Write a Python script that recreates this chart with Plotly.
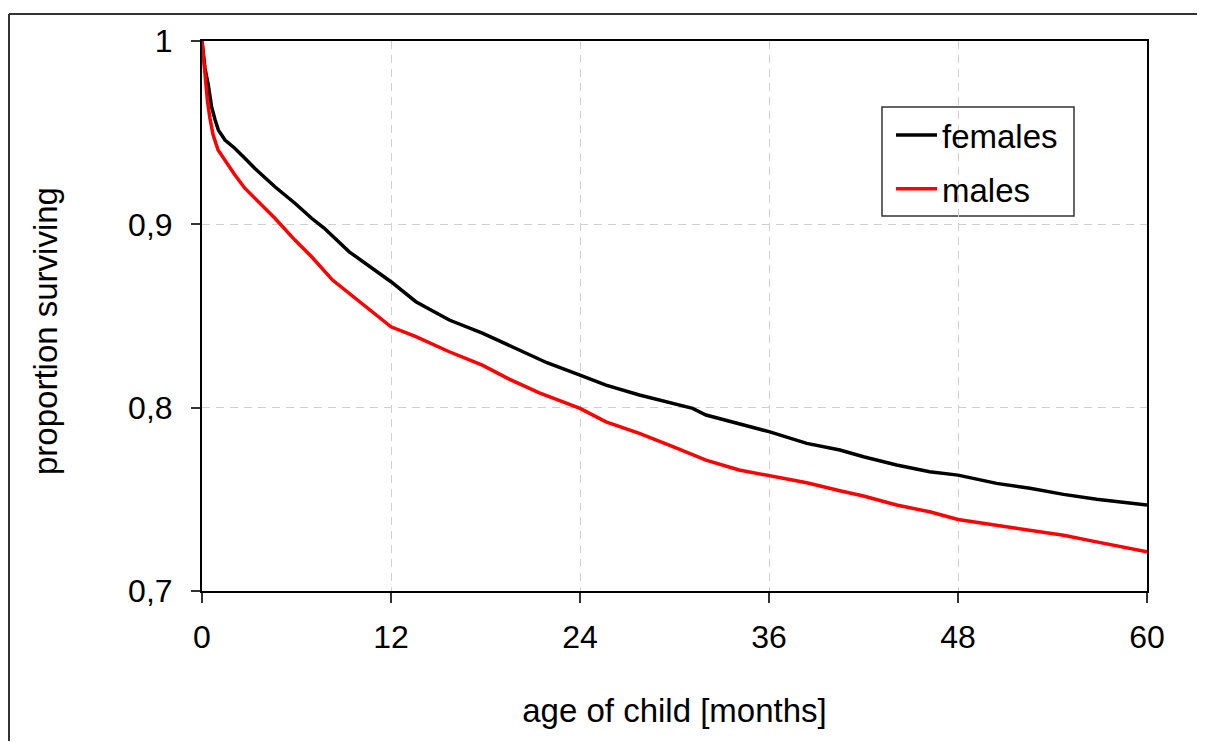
import plotly.graph_objects as go

# ---- data ----
females_months = [0, 0.19, 0.4, 0.61, 0.83, 1.04, 1.46, 2.08, 2.72, 3.36,
                  4.63, 5.9, 6.96, 7.75, 9.35, 10.93, 12, 13.58, 15.7, 17.8,
                  19.94, 21.9, 24, 25.65, 27.77, 29.9, 31.15, 32, 34.1, 36,
                  38.4, 40.5, 42, 44.1, 46.2, 48, 50.45, 52.57, 54.7, 56.8, 60]
females = [1.0, 0.985, 0.976, 0.964, 0.957, 0.9514, 0.946, 0.9415, 0.936, 0.9305,
           0.9205, 0.9115, 0.9033, 0.898, 0.885, 0.875, 0.8687, 0.8578, 0.8478, 0.8407,
           0.8325, 0.8245, 0.8178, 0.8123, 0.8069, 0.802, 0.7996, 0.796, 0.791, 0.7869,
           0.7805, 0.7769, 0.7732, 0.7687, 0.765, 0.7632, 0.7587, 0.756, 0.7527, 0.75, 0.7469]

males_months = [0, 0.16, 0.35, 0.5, 0.7, 1.02, 1.45, 2.08, 2.72, 3.36,
                4.63, 5.9, 6.96, 8.29, 10.4, 12, 13.58, 15.7, 17.8, 19.5,
                21.42, 24, 25.65, 27.77, 29.9, 32, 34.1, 36, 38.4, 40.5,
                42, 44.1, 46.2, 48, 50.45, 52.57, 54.7, 56.8, 60]
males = [1.0, 0.983, 0.967, 0.958, 0.949, 0.9405, 0.935, 0.927, 0.9197, 0.9142,
         0.9033, 0.8914, 0.8823, 0.8696, 0.855, 0.8441, 0.8387, 0.8305, 0.8232, 0.8156,
         0.8081, 0.7996, 0.7923, 0.786, 0.7787, 0.7714, 0.766, 0.7627, 0.759, 0.7547,
         0.7518, 0.7469, 0.7432, 0.739, 0.7359, 0.7328, 0.7304, 0.7268, 0.7214]

x_ticks = [0, 12, 24, 36, 48, 60]
x_ticklabels = ["0", "12", "24", "36", "48", "60"]
y_ticks = [0.7, 0.8, 0.9, 1.0]
y_ticklabels = ["0,7", "0,8", "0,9", "1"]
x_title = "age of child [months]"
y_title = "proportion surviving"

FONT = "Liberation Sans, Arial, sans-serif"
FS = 33
FS_TICK = 32

fig = go.Figure()
fig.add_trace(go.Scatter(x=females_months, y=females, mode="lines", name="females",
                         legendgroup="f", line=dict(color="black", width=3.5)))
fig.add_trace(go.Scatter(x=males_months, y=males, mode="lines", name="males",
                         legendgroup="m", line=dict(color="#ff0000", width=3.5)))

# page body has an 8px margin; the figure starts at page (8, 8)
OFF = 8
W, H = 1205 - OFF, 742 - OFF
PL, PR, PT, PB = 202, 1147, 41, 591          # plot area in page pixels

# paper coordinates now span the whole figure (zero margins)
def fx(px):
    return (px - OFF) / W

def fy(py):
    return (OFF + H - py) / H

fig.update_layout(
    width=W, height=H,
    margin=dict(l=0, r=0, t=0, b=0, pad=0),
    paper_bgcolor="white", plot_bgcolor="white",
    font=dict(family=FONT, size=FS, color="black"),
    showlegend=True,
    legend=dict(x=fx(891), y=fy(107), xanchor="left", yanchor="top",
                bgcolor="rgba(0,0,0,0)", borderwidth=0,
                font=dict(family=FONT, size=FS, color="black"),
                traceorder="grouped", tracegroupgap=8, itemwidth=41),
)

fig.update_xaxes(
    domain=[fx(PL), fx(PR)], automargin=False,
    range=[0, 60], tickvals=x_ticks, ticktext=x_ticklabels,
    tickfont=dict(size=FS_TICK),
    showgrid=True, gridcolor="#d0d0d0", gridwidth=1.2, griddash="8px,6px",
    showline=True, linecolor="black", linewidth=2, mirror=True,
    ticks="outside", ticklen=10, tickcolor="#333333", tickwidth=1.5,
    zeroline=False, ticklabelstandoff=7,
    title=dict(text=x_title, standoff=44, font=dict(size=FS)),
)
fig.update_yaxes(
    domain=[fy(PB), fy(PT)], automargin=False,
    range=[0.7, 1.0], tickvals=y_ticks, ticktext=y_ticklabels,
    tickfont=dict(size=FS_TICK),
    showgrid=True, gridcolor="#d0d0d0", gridwidth=1.2, griddash="8px,6px",
    showline=True, linecolor="black", linewidth=2, mirror=True,
    ticks="outside", ticklen=9, tickcolor="#333333", tickwidth=1.5,
    zeroline=False, ticklabelstandoff=12,
)

# y-axis title (placed slightly below the plot centre, as in the reference)
fig.add_annotation(text=y_title, textangle=-90, xref="paper", yref="paper",
                   x=fx(45), y=fy(331), xanchor="center", yanchor="middle",
                   showarrow=False, font=dict(family=FONT, size=FS, color="black"))

# legend frame
fig.add_shape(type="rect", xref="paper", yref="paper",
              x0=fx(882), x1=fx(1074), y0=fy(216), y1=fy(107),
              line=dict(color="#333333", width=1.5), fillcolor="white", layer="below")

# outer chart-area frame: top and left edges only
fig.add_shape(type="line", xref="paper", yref="paper",
              x0=fx(9), x1=fx(1204), y0=fy(14), y1=fy(14),
              line=dict(color="#333333", width=2))
fig.add_shape(type="line", xref="paper", yref="paper",
              x0=fx(9), x1=fx(9), y0=fy(14), y1=fy(741),
              line=dict(color="#333333", width=2))

fig.write_html("out.html")
